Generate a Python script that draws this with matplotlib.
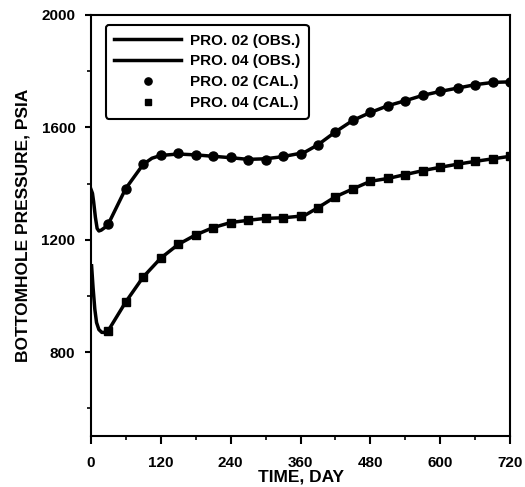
import matplotlib
matplotlib.use('Agg')
import matplotlib.pyplot as plt
import numpy as np

plt.rcParams['font.family'] = ['Liberation Sans', 'DejaVu Sans']
plt.rcParams['font.weight'] = 'bold'

t_obs02 = [0.5, 3, 5, 8, 11, 14, 18, 24, 30, 60, 90, 105, 120, 150, 180, 210, 240, 270,
           300, 330, 366, 390, 420, 450, 480, 510, 540, 570, 600, 630, 660, 690, 720]
p_obs02 = [1379, 1365, 1335, 1280, 1240, 1231, 1234, 1243, 1255, 1382, 1468, 1490, 1500,
           1505, 1502, 1497, 1492, 1486, 1488, 1496, 1510, 1538, 1584, 1625, 1653, 1677,
           1695, 1714, 1728, 1740, 1752, 1760, 1762]

t_obs04 = [1.5, 4, 7, 10, 14, 19, 24, 30, 60, 90, 120, 150, 180, 210, 240, 270, 300, 330,
           366, 390, 420, 450, 480, 510, 540, 570, 600, 630, 660, 690, 720]
p_obs04 = [1107, 1030, 953, 905, 880, 870, 870, 876, 978, 1067, 1134, 1183, 1217, 1243,
           1261, 1269, 1276, 1278, 1285, 1314, 1353, 1381, 1408, 1418, 1432, 1446, 1458,
           1469, 1479, 1488, 1497]

# calculated points, every 30 days
t_cal = np.arange(30, 721, 30)
p_cal02 = [1255, 1382, 1470, 1500, 1507, 1503, 1497, 1494, 1485, 1485, 1497, 1506,
           1538, 1584, 1625, 1653, 1677, 1695, 1714, 1728, 1740, 1752, 1761, 1763]
p_cal04 = [874, 978, 1067, 1134, 1183, 1217, 1243, 1261, 1269, 1278, 1278, 1284,
           1314, 1353, 1381, 1408, 1418, 1432, 1446, 1458, 1469, 1479, 1488, 1497]

fig = plt.figure(figsize=(5.25, 4.87), dpi=100)
ax = fig.add_axes([0.1728, 0.1041, 0.7992, 0.8651])

ax.plot(t_obs02, p_obs02, color='black', lw=2.5, label='PRO. 02 (OBS.)')
ax.plot(t_obs04, p_obs04, color='black', lw=2.5, label='PRO. 04 (OBS.)')
ax.plot(t_cal, p_cal02, 'o', color='black', ms=6.5, label='PRO. 02 (CAL.)')
ax.plot(t_cal, p_cal04, 's', color='black', ms=6, label='PRO. 04 (CAL.)')

ax.set_xlim(0, 720)
ax.set_ylim(500, 2000)
ax.set_xticks(np.arange(0, 721, 120))
ax.set_xticks(np.arange(60, 720, 120), minor=True)
ax.set_yticks([800, 1200, 1600, 2000])
ax.set_yticks([600, 1000, 1400, 1800], minor=True)
ax.tick_params(which='major', direction='out', width=1.5, labelsize=11)
ax.tick_params(axis='x', which='major', length=6, pad=8)
ax.tick_params(axis='y', which='major', length=4, pad=7)
ax.tick_params(which='minor', direction='out', length=3, width=1.2)
for lab in ax.get_xticklabels() + ax.get_yticklabels():
    lab.set_fontweight('bold')
for s in ax.spines.values():
    s.set_linewidth(1.5)

ax.set_xlabel('TIME, DAY', fontsize=12.5, fontweight='bold', labelpad=0)
ax.set_ylabel('BOTTOMHOLE PRESSURE, PSIA', fontsize=12.5, fontweight='bold', labelpad=8)

leg = ax.legend(loc='upper left', bbox_to_anchor=(0.036, 0.976), borderaxespad=0,
                handlelength=4.4, handletextpad=0.55, numpoints=1, fancybox=True,
                framealpha=1, edgecolor='black', labelspacing=0.45, borderpad=0.55,
                markerscale=0.8, prop={'weight': 'bold', 'size': 11})
leg.get_frame().set_linewidth(1.5)

fig.savefig('out.png', dpi=100)
